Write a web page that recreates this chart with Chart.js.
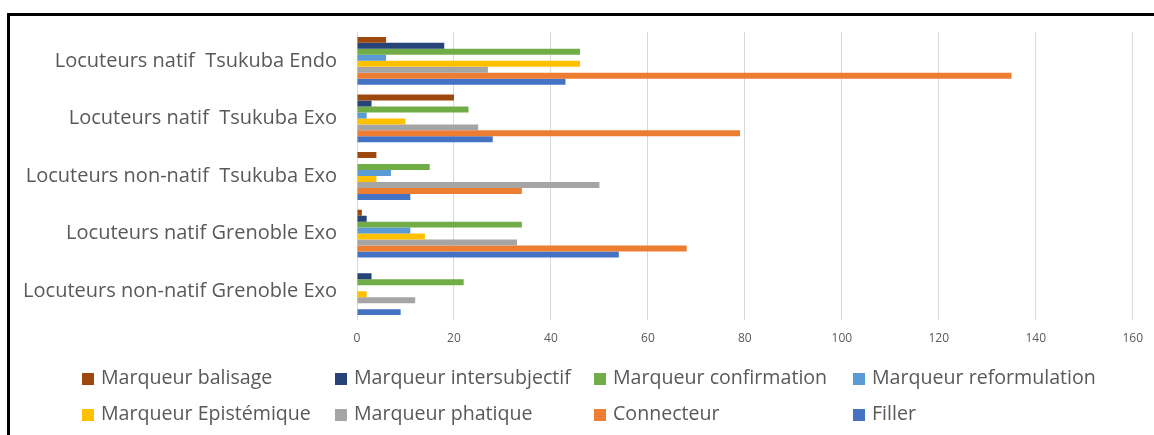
<!DOCTYPE html>
<html>
<head>
<meta charset="utf-8">
<script src="https://cdn.jsdelivr.net/npm/chart.js@4"></script>
<style>
  body { margin: 0; background: #fff; }
  #wrap { position: relative; width: 1154px; height: 435px; overflow: hidden; }
  #frame { position: absolute; left: 7px; top: 13px; width: 1200px; height: 500px;
           border-left: 3px solid #000; border-top: 3px solid #000; }
  canvas { position: absolute; left: 0; top: 0; }
  .leg { position: absolute; font: 19.6px 'Open Sans', sans-serif; color: #595959;
         white-space: nowrap; line-height: 24px; }
  .leg span { display: inline-block; width: 12px; height: 12px; margin-right: 7px; vertical-align: -1px; }
</style>
</head>
<body>
<div id="wrap">
  <div id="frame"></div>
  <canvas id="chart" width="1154" height="435"></canvas>
  <div id="legend"></div>
</div>
<script>
// Catégories (de haut en bas)
const categories = [
    'Locuteurs natif  Tsukuba Endo',
    'Locuteurs natif  Tsukuba Exo',
    'Locuteurs non-natif  Tsukuba Exo',
    'Locuteurs natif Grenoble Exo',
    'Locuteurs non-natif Grenoble Exo'
];

// Valeurs par série
const balisage      = [6, 20, 4, 1, 0];
const intersubjectif = [18, 3, 0, 2, 3];
const confirmation  = [46, 23, 15, 34, 22];
const reformulation = [6, 2, 7, 11, 0];
const epistemique   = [46, 10, 4, 14, 2];
const phatique      = [27, 25, 50, 33, 12];
const connecteur    = [135, 79, 34, 68, 0];
const filler        = [43, 28, 11, 54, 9];

const xTicks = [0, 20, 40, 60, 80, 100, 120, 140, 160];

const series = [
    { label: 'Marqueur balisage', data: balisage, color: '#9E480E' },
    { label: 'Marqueur intersubjectif', data: intersubjectif, color: '#264478' },
    { label: 'Marqueur confirmation', data: confirmation, color: '#70AD47' },
    { label: 'Marqueur reformulation', data: reformulation, color: '#5B9BD5' },
    { label: 'Marqueur Epistémique', data: epistemique, color: '#FFC000' },
    { label: 'Marqueur phatique', data: phatique, color: '#A5A5A5' },
    { label: 'Connecteur', data: connecteur, color: '#ED7D31' },
    { label: 'Filler', data: filler, color: '#4472C4' }
];

const textColor = '#595959';

const chart = new Chart(document.getElementById('chart'), {
    type: 'bar',
    data: {
        labels: categories,
        datasets: series.map(s => ({
            label: s.label,
            data: s.data,
            backgroundColor: s.color,
            borderWidth: 0,
            barPercentage: 1,
            categoryPercentage: 0.83
        }))
    },
    options: {
        indexAxis: 'y',
        responsive: false,
        animation: false,
        layout: { padding: { top: 27, left: 0, right: 21, bottom: 85 } },
        plugins: {
            legend: { display: false },
            tooltip: { enabled: false }
        },
        scales: {
            x: {
                min: 0,
                max: 160,
                afterBuildTicks: scale => { scale.ticks = xTicks.map(v => ({ value: v })); },
                afterFit: scale => { scale.height = 30; },
                grid: { color: '#D9D9D9', drawTicks: false },
                border: { display: false },
                ticks: {
                    padding: 11,
                    color: textColor,
                    font: { family: 'Open Sans', size: 12 }
                }
            },
            y: {
                afterFit: scale => { scale.width = 357; },
                grid: { display: false, drawTicks: false },
                border: { display: false },
                ticks: {
                    padding: 20,
                    color: textColor,
                    font: { family: 'Open Sans', size: 20 }
                }
            }
        }
    }
});

// Légende en grille (4 colonnes, 2 lignes), comme dans l'original
const legendCols = [82, 335, 594, 853];
const legendRows = [365, 401];
const legend = document.getElementById('legend');
chart.data.datasets.forEach((ds, i) => {
    const item = document.createElement('div');
    item.className = 'leg';
    item.style.left = legendCols[i % 4] + 'px';
    item.style.top = legendRows[Math.floor(i / 4)] + 'px';
    const box = document.createElement('span');
    box.style.background = ds.backgroundColor;
    item.appendChild(box);
    item.appendChild(document.createTextNode(ds.label));
    legend.appendChild(item);
});
</script>
</body>
</html>
